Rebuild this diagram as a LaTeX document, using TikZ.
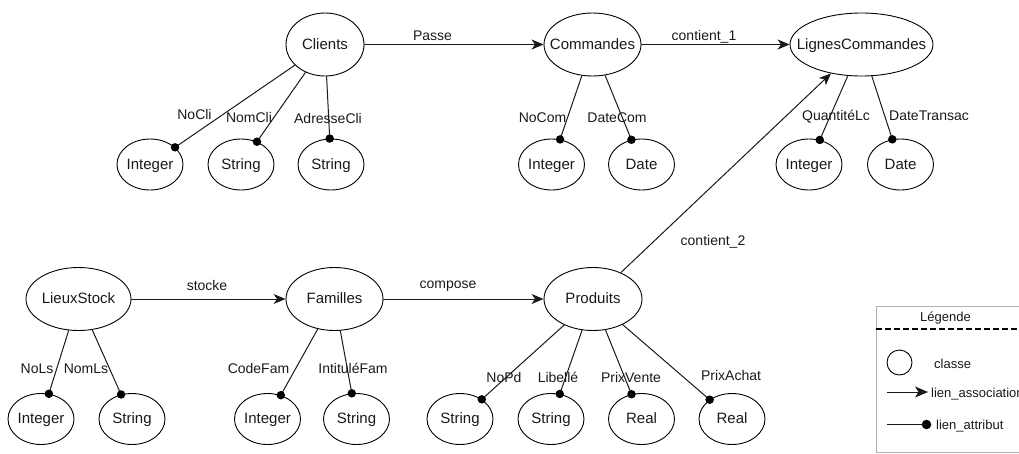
\documentclass[tikz,border=0pt]{standalone}
\usepackage{fontspec}
\setmainfont{Liberation Sans}
\usetikzlibrary{shapes.geometric,arrows.meta}

% centred text in a zero-width box, so the ellipse size comes from the style only
\newcommand\mkctr[1]{\makebox[0pt]{#1}}
% attribute link: plain line ending in a dot centred on the type's border
\newcommand\attrlink[2]{\draw[attr] (#1) -- (#2) node[dotmark,pos=1] (#2-dot) {};}

\tikzset{
  cls/.style={ellipse, draw=black, line width=0.9pt, minimum height=63pt,
    inner sep=0pt, text height=11.5pt, text depth=2pt,
    font=\fontsize{15}{18}\selectfont, text=black!90},
  typ/.style={cls, minimum width=66pt, minimum height=51pt},
  lab/.style={anchor=base, inner sep=0pt, font=\fontsize{14}{16}\selectfont, text=black!90},
  leglab/.style={anchor=base west, inner sep=0pt, font=\fontsize{13}{15}\selectfont, text=black!90},
  assoc/.style={draw=black!90, line width=1pt,
    -{Stealth[length=12pt,width=10pt,inset=3.5pt]}},
  attr/.style={draw=black!90, line width=1pt},
  dotmark/.style={circle, fill=black, inner sep=0pt, minimum size=8.5pt},
}

\begin{document}
\begin{tikzpicture}[x=1pt,y=-1pt]
\useasboundingbox (0,0) rectangle (1019,453);
\clip (0,0) rectangle (1019,453);

% ---- classes ----
\node[cls, minimum width=78pt]  (cli) at (325,44.5)   {\mkctr{Clients}};
\node[cls, minimum width=97pt]  (cmd) at (592.5,44.5) {\mkctr{Commandes}};
\node[cls, minimum width=143pt] (lc)  at (861.5,44.5) {\mkctr{LignesCommandes}};
\node[cls, minimum width=105pt] (ls)  at (78.5,299)   {\mkctr{LieuxStock}};
\node[cls, minimum width=97pt]  (fam) at (334.5,299)  {\mkctr{Familles}};
\node[cls, minimum width=98pt]  (prd) at (593,299)    {\mkctr{Produits}};

% ---- attribute types ----
\node[typ] (cliInt)  at (150,164.5)   {\mkctr{Integer}};
\node[typ] (cliStr)  at (241,164.5)   {\mkctr{String}};
\node[typ] (cliStrB) at (331,164.5)   {\mkctr{String}};
\node[typ] (cmdInt)  at (551.5,164.5) {\mkctr{Integer}};
\node[typ] (cmdDate) at (641.5,164.5) {\mkctr{Date}};
\node[typ] (lcInt)   at (809,164.5)   {\mkctr{Integer}};
\node[typ] (lcDate)  at (900.5,164.5) {\mkctr{Date}};

\node[typ] (lsInt)   at (41,419)    {\mkctr{Integer}};
\node[typ] (lsStr)   at (132,419)   {\mkctr{String}};
\node[typ] (famInt)  at (267.5,419) {\mkctr{Integer}};
\node[typ] (famStr)  at (356.5,419) {\mkctr{String}};
\node[typ] (prdStr)  at (460,419)   {\mkctr{String}};
\node[typ] (prdStrB) at (551,419)   {\mkctr{String}};
\node[typ] (prdReal) at (641.5,419) {\mkctr{Real}};
\node[typ] (prdRealB) at (732,419)  {\mkctr{Real}};

% ---- associations ----
\draw[assoc] (cli) -- (cmd);
\draw[assoc] (cmd) -- (lc);
\draw[assoc] (ls) -- (fam);
\draw[assoc] (fam) -- (prd);
\draw[assoc] (prd) -- (lc);

\node[lab] (lPasse)    at (432.5,40) {Passe};
\node[lab] (lCont1)    at (704,40)   {contient\_1};
\node[lab] (lStocke)   at (207,290)  {stocke};
\node[lab] (lCompose)  at (448,288)  {compose};
\node[lab] (lCont2)    at (713,245)  {contient\_2};

% ---- attributes ----
\attrlink{cli}{cliInt}
\attrlink{cli}{cliStr}
\attrlink{cli}{cliStrB}
\attrlink{cmd}{cmdInt}
\attrlink{cmd}{cmdDate}
\attrlink{lc}{lcInt}
\attrlink{lc}{lcDate}
\attrlink{ls}{lsInt}
\attrlink{ls}{lsStr}
\attrlink{fam}{famInt}
\attrlink{fam}{famStr}
\attrlink{prd}{prdStr}
\attrlink{prd}{prdStrB}
\attrlink{prd}{prdReal}
\attrlink{prd}{prdRealB}

\node[lab] (lNoCli)     at (194.5,119) {NoCli};
\node[lab] (lNomCli)    at (249,122)   {NomCli};
\node[lab] (lAdrCli)    at (328,123)   {AdresseCli};
\node[lab] (lNoCom)     at (542.5,122) {NoCom};
\node[lab] (lDateCom)   at (617,122)   {DateCom};
\node[lab] (lQte)       at (836,120)   {QuantitéLc};
\node[lab] (lDateTr)    at (929,120)   {DateTransac};
\node[lab] (lNoLs)      at (37,373)    {NoLs};
\node[lab] (lNomLs)     at (86,373)    {NomLs};
\node[lab] (lCodeFam)   at (258.5,373) {CodeFam};
\node[lab] (lIntFam)    at (353,373)   {IntituléFam};
\node[lab] (lNoPd)      at (504,382)   {NoPd};
\node[lab] (lLib)       at (558,382)   {Libellé};
\node[lab] (lPV)        at (631,382)   {PrixVente};
\node[lab] (lPA)        at (731,380)   {PrixAchat};

% ---- legend ----
\draw[black!30, line width=0.8pt] (1030,306) -- (876,306) -- (876,452) -- (1030,452);
\node[leglab, anchor=base] (legTitle) at (945.5,321) {Légende};
\draw[black, line width=2pt, dash pattern=on 6pt off 3pt] (876,328.7) -- (1030,328.7);

\node[circle, draw=black, line width=0.9pt, minimum size=25pt, inner sep=0pt] (legCls) at (899.5,362.5) {};
\node[leglab] (legClsTxt) at (934,368) {classe};

\coordinate (legA0) at (887,392);
\coordinate (legA1) at (928,392);
\draw[draw=black!90, line width=1pt, -{Stealth[length=13pt,width=11pt,inset=3.5pt]}] (legA0) -- (legA1);
\node[leglab] (legAssocTxt) at (931,397.5) {lien\_association};

\coordinate (legB0) at (887,424.5);
\node[dotmark, minimum size=9.5pt] (legB1) at (926.5,424.5) {};
\draw[attr] (legB0) -- (legB1.center);
\node[leglab] (legAttrTxt) at (936,429) {lien\_attribut};
\end{tikzpicture}
\end{document}
